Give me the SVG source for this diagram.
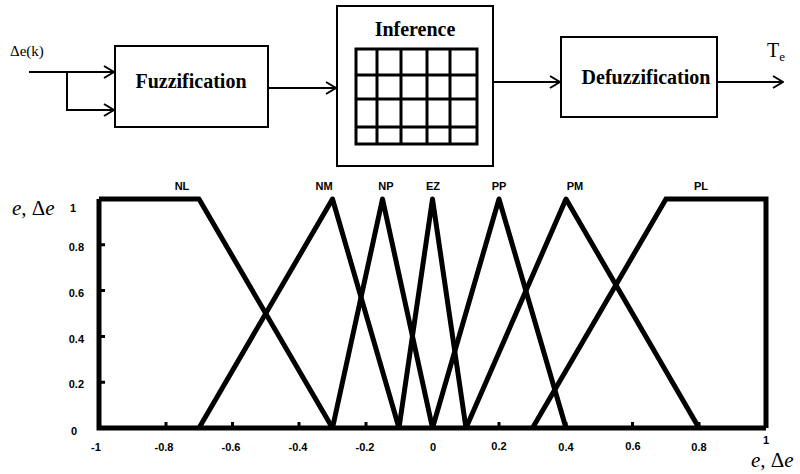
<svg xmlns="http://www.w3.org/2000/svg" width="800" height="474" viewBox="0 0 800 474">
<defs>
<style>
.box{fill:#fff;stroke:#000;stroke-width:2}
.conn{fill:none;stroke:#000;stroke-width:2}
.btxt{font-family:"Liberation Serif",serif;font-weight:bold;font-size:20px;fill:#000}
.stxt{font-family:"Liberation Serif",serif;fill:#000}
.grid{fill:none;stroke:#000;stroke-width:3}
.mf{fill:none;stroke:#000;stroke-width:5;stroke-linejoin:round}
.ax{fill:none;stroke:#000;stroke-width:5;stroke-linejoin:miter}
.tick{stroke:#000;stroke-width:3}
.lab{font-family:"Liberation Sans",Arial,sans-serif;font-weight:bold;font-size:11px;fill:#000}
.axl{font-family:"Liberation Serif",serif;font-style:italic;font-size:21px;fill:#000}
</style>
<marker id="arr" viewBox="0 0 12 14" refX="11" refY="7" markerWidth="12" markerHeight="14" markerUnits="userSpaceOnUse" orient="auto">
<path d="M1,1 L11,7 L1,13" fill="none" stroke="#000" stroke-width="2"/>
</marker>
</defs>

<g id="input">
<text class="stxt" x="10" y="56" font-size="15">Δe(k)</text>
</g>

<g id="fuzzification">
<rect class="box" x="115" y="46" width="153" height="81"/>
<text class="btxt" x="191" y="88" text-anchor="middle">Fuzzification</text>
</g>

<g id="inference">
<rect class="box" x="337" y="6" width="156" height="160"/>
<text class="btxt" x="415" y="36" text-anchor="middle">Inference</text>
<rect class="grid" x="356" y="49" width="121" height="95" stroke-width="3.5"/>
<path class="grid" d="M377,49V144M401,49V144M427,49V144M450,49V144M356,75H477M356,99H477M356,127H477"/>
</g>

<g id="defuzzification">
<rect class="box" x="561" y="37" width="156" height="80"/>
<text class="btxt" x="646" y="84" text-anchor="middle">Defuzzification</text>
</g>

<g id="output">
<text class="stxt" x="767" y="57" font-size="20">T<tspan font-size="13" dy="4">e</tspan></text>
</g>

<g id="connectors">
<path class="conn" d="M29,72H114" marker-end="url(#arr)"/>
<path class="conn" d="M67,72V110H114" marker-end="url(#arr)"/>
<path class="conn" d="M268,88H336" marker-end="url(#arr)"/>
<path class="conn" d="M493,82H560" marker-end="url(#arr)"/>
<path class="conn" d="M717,82H783" marker-end="url(#arr)"/>
</g>

<g id="chart">
<path class="ax" d="M99,199V428H766"/>
<path class="mf" d="M99,199H199L332.5,428"/>
<path class="mf" d="M199,428L332.5,199L399,428"/>
<path class="mf" d="M332.5,428L382.5,199L432.5,428"/>
<path class="mf" d="M399,428L432.5,199L466,428"/>
<path class="mf" d="M432.5,428L499,199L566,428"/>
<path class="mf" d="M466,428L566,199L699,428"/>
<path class="ax" d="M532.5,428L666,199H766V428"/>
<path class="tick" d="M166,428V422M232.5,428V422M299,428V422M366,428V422M499,428V422M566,428V422M632.5,428V422M699,428V422"/>
<path class="tick" d="M99,382.2H105M99,336.4H105M99,290.6H105M99,244.8H105"/>
<g class="lab" text-anchor="middle">
<text x="182" y="190">NL</text>
<text x="324" y="190">NM</text>
<text x="386" y="190">NP</text>
<text x="433" y="190">EZ</text>
<text x="499" y="190">PP</text>
<text x="575" y="190">PM</text>
<text x="701" y="190">PL</text>
</g>
<g class="lab" text-anchor="end">
<text x="76" y="212">1</text>
<text x="84" y="251">0.8</text>
<text x="84" y="297">0.6</text>
<text x="84" y="343">0.4</text>
<text x="84" y="388">0.2</text>
<text x="77" y="435">0</text>
</g>
<g class="lab" text-anchor="middle">
<text x="96" y="451">-1</text>
<text x="164" y="451">-0.8</text>
<text x="231" y="451">-0.6</text>
<text x="298" y="451">-0.4</text>
<text x="365" y="451">-0.2</text>
<text x="433" y="451">0</text>
<text x="499" y="450">0.2</text>
<text x="566" y="451">0.4</text>
<text x="633" y="450">0.6</text>
<text x="699" y="451">0.8</text>
<text x="766" y="444">1</text>
</g>
<text class="axl" x="12" y="215">e, <tspan font-style="normal">Δ</tspan>e</text>
<text class="axl" x="751" y="467">e, <tspan font-style="normal">Δ</tspan>e</text>
</g>
</svg>
